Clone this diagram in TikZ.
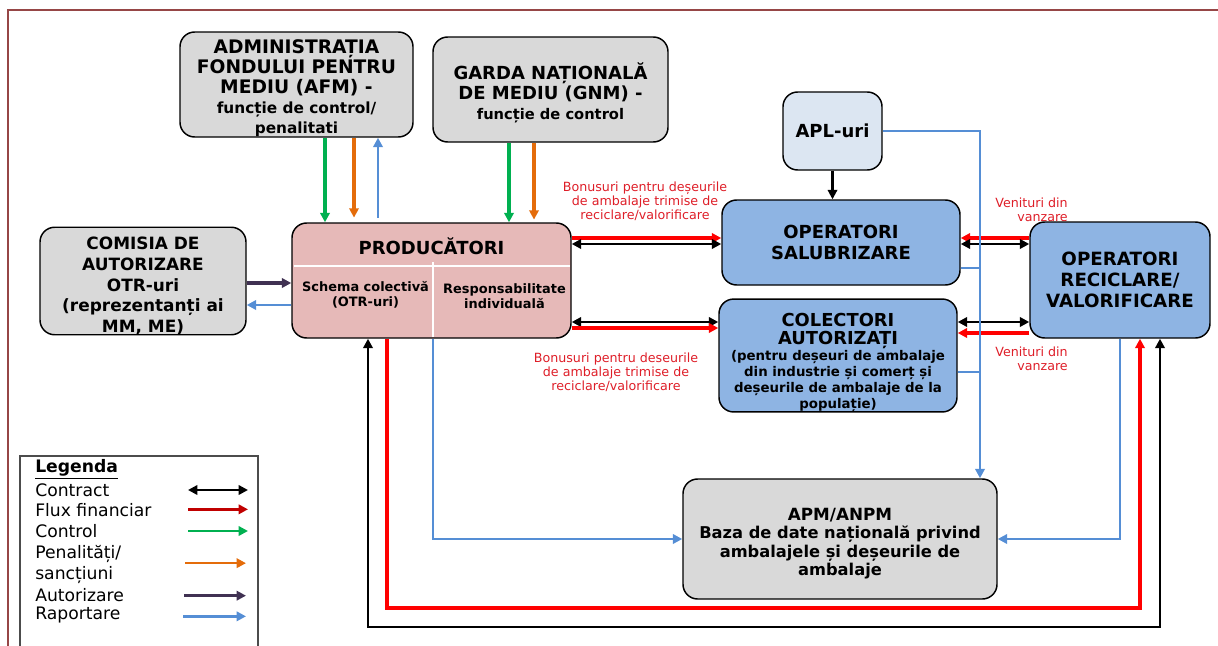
\documentclass[tikz,border=0pt]{standalone}
\usepackage{fontspec}
\setmainfont{DejaVu Sans}
\usetikzlibrary{positioning,arrows.meta}

\definecolor{boxgray}{RGB}{217,217,217}
\definecolor{prodpink}{RGB}{230,185,184}
\definecolor{opblue}{RGB}{142,180,227}
\definecolor{aplblue}{RGB}{220,230,242}
\definecolor{ctrlgreen}{RGB}{0,176,80}
\definecolor{penorange}{RGB}{228,108,10}
\definecolor{authpurple}{RGB}{64,49,82}
\definecolor{repblue}{RGB}{85,142,213}
\definecolor{finred}{RGB}{255,0,0}
\definecolor{legred}{RGB}{192,0,0}
\definecolor{framered}{RGB}{150,70,70}
\definecolor{labred}{RGB}{222,30,40}

\newcommand{\fsz}[2]{\fontsize{#1}{#2}\selectfont}
\newcommand{\topgap}[1]{\rule{0pt}{#1}}

\begin{document}
\begin{tikzpicture}[x=0.75pt,y=-0.75pt,
      >={Triangle[length=7pt,width=7pt]},
      box/.style={draw,line width=1.1pt,rounded corners=11pt,align=center,inner xsep=2pt,inner ysep=0pt},
      sz/.style 2 args={minimum width=#1*0.75pt,minimum height=#2*0.75pt},
      contract/.style={<->,line width=2.2pt},
      fin/.style={->,finred,line width=2.4pt},
      ctrl/.style={->,ctrlgreen,line width=2.4pt},
      pen/.style={->,penorange,line width=2.4pt},
      auth/.style={->,authpurple,line width=2.4pt},
      rep/.style={repblue,line width=1.9pt},
      lab/.style={labred,align=center,font=\fsz{9.5}{10.5},inner sep=0pt},
      leg/.style={anchor=west,align=left,font=\fsz{12.9}{15.75},inner sep=0pt}]
      \useasboundingbox (0,0) rectangle (1218,646);
      % frame
      \draw[framered,line width=1.5pt] (8,646) -- (8,10) -- (1218,10);

      % boxes
      \node[box,fill=boxgray,sz={233}{105},font=\bfseries\fsz{14}{15}] (afm) at (296.5,84.5)
        {\topgap{16.2pt}ADMINISTRAȚIA\\FONDULUI PENTRU\\MEDIU (AFM) -\\{\fsz{11.5}{14.25}funcție de control/}\\{\fsz{11.5}{14.25}penalitati}};
      \node[box,fill=boxgray,sz={235}{105},font=\bfseries\fsz{13.5}{15}] (gnm) at (550.5,89.5)
        {\topgap{16.9pt}GARDA NAȚIONALĂ\\DE MEDIU (GNM) -\\{\fsz{11}{14}funcție de control}};
      \node[box,fill=aplblue,sz={99}{78},font=\bfseries\fsz{13.5}{15}] (apl) at (832.5,131) {APL-uri};
      \node[box,fill=boxgray,sz={206}{106},font=\bfseries\fsz{12.7}{15.5}] (otr) at (143,281)
        {\topgap{16.8pt}COMISIA DE\\AUTORIZARE\\OTR-uri\\(reprezentanți ai\\MM, ME)};
      \node[box,fill=prodpink,sz={279}{115}] (prod) at (431.5,280.5) {};
      \node[box,fill=opblue,sz={238}{85},font=\bfseries\fsz{13.5}{15.5}] (salub) at (841,242.5) {OPERATORI\\SALUBRIZARE};
      \node[box,fill=opblue,sz={238}{111},font=\bfseries\fsz{10}{12}] (colect) at (838,355.5)
        {{\fsz{13.4}{14}\topgap{20.3pt}COLECTORI}\\[2pt]{\fsz{13.4}{14}AUTORIZAȚI}\\(pentru deșeuri de ambalaje\\din industrie și comerț și\\deșeurile de ambalaje de la\\populație)};
      \node[box,fill=opblue,sz={180}{116},font=\bfseries\fsz{13.7}{16}] (recic) at (1120,280)
        {OPERATORI\\RECICLARE/\\VALORIFICARE};
      \node[box,fill=boxgray,sz={314}{120},font=\bfseries\fsz{12.2}{13.9}] (apm) at (840,539)
        {{\fsz{12.6}{14}\topgap{16.4pt}APM/ANPM}\\Baza de date națională privind\\ambalajele și deșeurile de\\ambalaje};

      % inside producatori
      \draw[white,line width=2pt] (293.5,266) -- (569.5,266);
      \draw[white,line width=2pt] (433,262) -- (433,337);
      \node[font=\bfseries\fsz{13.5}{16}] (prodtitle) at (431.5,246) {PRODUCĂTORI};
      \node[align=center,font=\bfseries\fsz{9.7}{11.5}] (colsch) at (365.5,295) {Schema colectivă\\(OTR-uri)};
      \node[align=center,font=\bfseries\fsz{9.7}{11.5}] (indsch) at (504.5,296) {Responsabilitate\\individuală};

      % columns and rows
      \coordinate (xa1) at (325,0);
      \coordinate (xa2) at (354,0);
      \coordinate (xa3) at (378,0);
      \coordinate (xg1) at (509,0);
      \coordinate (xg2) at (534,0);
      \coordinate (xrep) at (980,0);
      \coordinate (y1) at (0,238);
      \coordinate (y2) at (0,244);
      \coordinate (y3) at (0,322);
      \coordinate (y4) at (0,328);
      \coordinate (y5) at (0,333);

      % control / penalties / reporting (top)
      \draw[ctrl] (afm.south -| xa1) -- (prod.north -| xa1);
      \draw[pen] (afm.south -| xa2) -- ([yshift=3.5pt]prod.north -| xa2);
      \draw[rep,->] ([yshift=3.5pt]prod.north -| xa3) -- (afm.south -| xa3);
      \draw[ctrl] (gnm.south -| xg1) -- (prod.north -| xg1);
      \draw[pen] (gnm.south -| xg2) -- ([yshift=2pt]prod.north -| xg2);

      % authorisation
      \draw[auth] (otr.east |- 0,283) -- (prod.west |- 0,283);
      \draw[rep,->] (prod.west |- 0,305) -- (otr.east |- 0,305);

      % contracts and bonuses
      \draw[fin] (prod.east |- y1) -- (salub.west |- y1);
      \draw[contract] (prod.east |- y2) -- (salub.west |- y2);
      \draw[contract] (prod.east |- y3) -- (colect.west |- y3);
      \draw[fin] (prod.east |- y4) -- (colect.west |- y4);
      \draw[fin] (recic.west |- y1) -- (salub.east |- y1);
      \draw[contract] (recic.west |- y2) -- (salub.east |- y2);
      \draw[contract] (recic.west |- y3) -- (colect.east |- y3);
      \draw[fin] (recic.west |- y5) -- (colect.east |- y5);
      \draw[->,line width=1.6pt] (apl.south) -- (apl.south |- salub.north);

      % reporting to APM
      \draw[rep,->] (apl.east) -| (apm.north -| xrep);
      \draw[rep] (salub.east |- 0,268) -- (xrep |- 0,268);
      \draw[rep] (colect.east |- 0,372) -- (xrep |- 0,372);
      \draw[rep,->] (recic.south) |- (apm.east);
      \draw[rep,->] (prod.south -| 433,0) |- (apm.west);

      % long loops at the bottom
      \coordinate (fin1) at (387,608);
      \coordinate (fin2) at (1140,608);
      \coordinate (con1) at (368,627);
      \coordinate (con2) at (1160,627);
      \draw[fin] (prod.south -| fin1) -- (fin1) -- (fin2) -- (recic.south -| fin2);
      \draw[contract] (prod.south -| con1) -- (con1) -- (con2) -- (recic.south -| con2);

      % labels
      \node[lab] (bon1) at (645,201) {Bonusuri pentru deșeurile\\de ambalaje trimise de\\reciclare/valorificare};
      \node[lab] (bon2) at (616,372) {Bonusuri pentru deseurile\\de ambalaje trimise de\\reciclare/valorificare};
      \node[lab,align=right,anchor=east] (ven1) at (1068,209.5) {Venituri din\\vanzare};
      \node[lab,align=right,anchor=east] (ven2) at (1068,358.5) {Venituri din\\vanzare};

      % legend
      \draw[black!70,line width=0.8pt] (20,646) -- (20,456) -- (258,456) -- (258,646);
      \node[leg,font=\bfseries\fsz{12.9}{15.75}] (legtitle) at (35,469) {\underline{Legenda}};
      \node[leg] (lg1) at (35,490) {Contract};
      \node[leg] (lg2) at (35,510) {Flux financiar};
      \node[leg] (lg3) at (35,531) {Control};
      \node[leg] (lg4) at (35,564.5) {Penalități/\\sancțiuni};
      \node[leg] (lg5) at (35,595) {Autorizare};
      \node[leg] (lg6) at (35,615) {Raportare};
      \coordinate (la) at (188,0);
      \coordinate (lb) at (248,0);
      \draw[contract,line width=1.9pt] (lg1 -| la) -- (lg1 -| lb);
      \draw[fin,legred,line width=1.9pt] ([yshift=0.5pt]lg2 -| la) -- ([yshift=0.5pt]lg2 -| lb);
      \draw[ctrl,line width=1.9pt] (lg3 -| la) -- (lg3 -| lb);
      \draw[pen,line width=1.9pt] ([xshift=-2pt,yshift=1pt]lg4 -| la) -- ([xshift=-1.5pt,yshift=1pt]lg4 -| lb);
      \draw[auth,line width=1.9pt] ([xshift=-3pt,yshift=-0.5pt]lg5 -| la) -- ([xshift=-1.5pt,yshift=-0.5pt]lg5 -| lb);
      \draw[rep,->] ([xshift=-3.5pt,yshift=-1pt]lg6 -| la) -- ([xshift=-1.5pt,yshift=-1pt]lg6 -| lb);
\end{tikzpicture}
\end{document}
